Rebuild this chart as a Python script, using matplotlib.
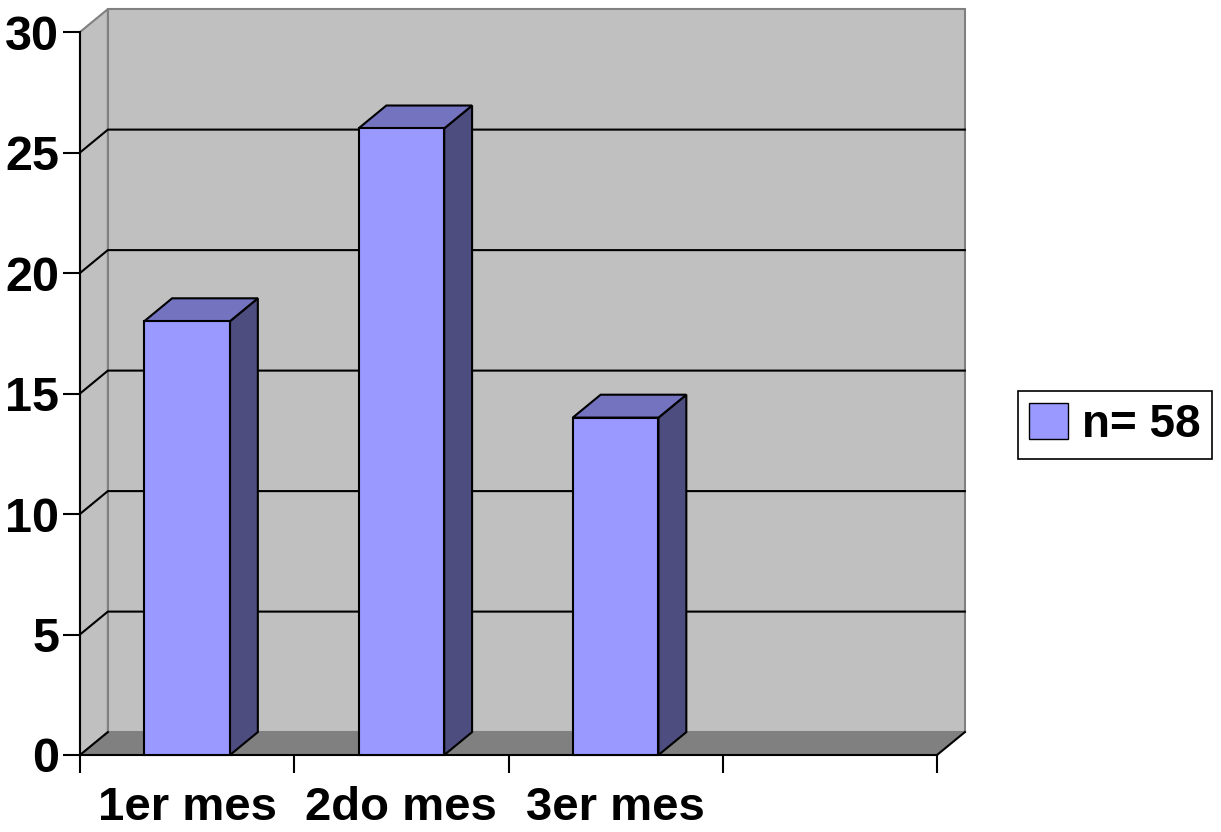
import matplotlib.pyplot as plt
from matplotlib.patches import Polygon, Patch

plt.rcParams['font.family'] = ['Liberation Sans', 'DejaVu Sans']
plt.rcParams['font.weight'] = 'bold'

# datos
categorias = ['1er mes', '2do mes', '3er mes']
valores = [18, 26, 14]
serie = 'n= 58'
n_slots = 4
y_ticks = [0, 5, 10, 15, 20, 25, 30]

# profundidad del efecto 3D (en unidades de datos)
dx, dy = 0.13, 0.95
ancho = 0.40

wall = '#C0C0C0'
floor = '#808080'
edge_gray = '#808080'
c_front, c_top, c_side = '#9999FF', '#7373BF', '#4D4D80'

fig = plt.figure(figsize=(12.21, 8.32), dpi=100)
ax = fig.add_axes([80 / 1221, 77 / 832, 857 / 1221, 723 / 832])
ax.set_xlim(0, n_slots)
ax.set_ylim(0, 30)

ymax = y_ticks[-1]

# pared del fondo y pared izquierda
ax.add_patch(Polygon([(dx, dy), (n_slots + dx, dy), (n_slots + dx, ymax + dy), (dx, ymax + dy)],
                     closed=True, facecolor=wall, edgecolor=edge_gray, lw=1.5, clip_on=False, zorder=1))
ax.add_patch(Polygon([(0, 0), (dx, dy), (dx, ymax + dy), (0, ymax)],
                     closed=True, facecolor=wall, edgecolor=edge_gray, lw=1.5, clip_on=False, zorder=1))
# piso
ax.add_patch(Polygon([(0, 0), (n_slots, 0), (n_slots + dx, dy), (dx, dy)],
                     closed=True, facecolor=floor, edgecolor='none', clip_on=False, zorder=1))
ax.plot([0, dx], [0, dy], color='black', lw=1.5, clip_on=False, zorder=1.5)
ax.plot([n_slots, n_slots + dx], [0, dy], color='black', lw=1.5, clip_on=False, zorder=1.5)

# líneas de división
for v in y_ticks[1:-1]:
    ax.plot([0, dx, n_slots + dx], [v, v + dy, v + dy], color='black', lw=1.5,
            clip_on=False, zorder=1.5)

# barras 3D
for i, v in enumerate(valores):
    x0 = i + 0.5 - ancho / 2
    x1 = x0 + ancho
    front = [(x0, 0), (x1, 0), (x1, v), (x0, v)]
    top = [(x0, v), (x1, v), (x1 + dx, v + dy), (x0 + dx, v + dy)]
    side = [(x1, 0), (x1 + dx, dy), (x1 + dx, v + dy), (x1, v)]
    for pts, col in ((side, c_side), (top, c_top), (front, c_front)):
        ax.add_patch(Polygon(pts, closed=True, facecolor=col, edgecolor='black',
                             lw=1.5, clip_on=False, zorder=3))

# ejes
for s in ('top', 'right'):
    ax.spines[s].set_visible(False)
ax.spines['left'].set_linewidth(1.5)
ax.spines['bottom'].set_linewidth(1.5)
ax.set_facecolor('none')
ax.set_yticks(y_ticks)
ax.tick_params(axis='y', direction='out', length=12, width=1.5, labelsize=35, pad=3)
ax.set_xticks(range(n_slots + 1))
ax.set_xticklabels([])
ax.set_xticks([i + 0.5 for i in range(len(categorias))], minor=True)
ax.set_xticklabels(categorias, minor=True, fontsize=34)
ax.tick_params(axis='x', which='major', direction='out', length=13, width=1.5)
ax.tick_params(axis='x', which='minor', length=0, pad=22)
for lab in ax.get_yticklabels() + ax.get_xticklabels(minor=True):
    lab.set_fontweight('bold')

leg = fig.legend(handles=[Patch(facecolor=c_front, edgecolor='black', label=serie)],
                 loc='center', bbox_to_anchor=(1115 / 1221, 1 - 425 / 832),
                 fontsize=33, frameon=True, fancybox=False, framealpha=1,
                 handlelength=0.85, handleheight=0.85, handletextpad=0.3,
                 borderpad=0.25, borderaxespad=0)
leg.get_frame().set_edgecolor('black')
leg.get_frame().set_linewidth(1.2)
for t in leg.get_texts():
    t.set_fontweight('bold')

fig.savefig('out.png', dpi=100)
